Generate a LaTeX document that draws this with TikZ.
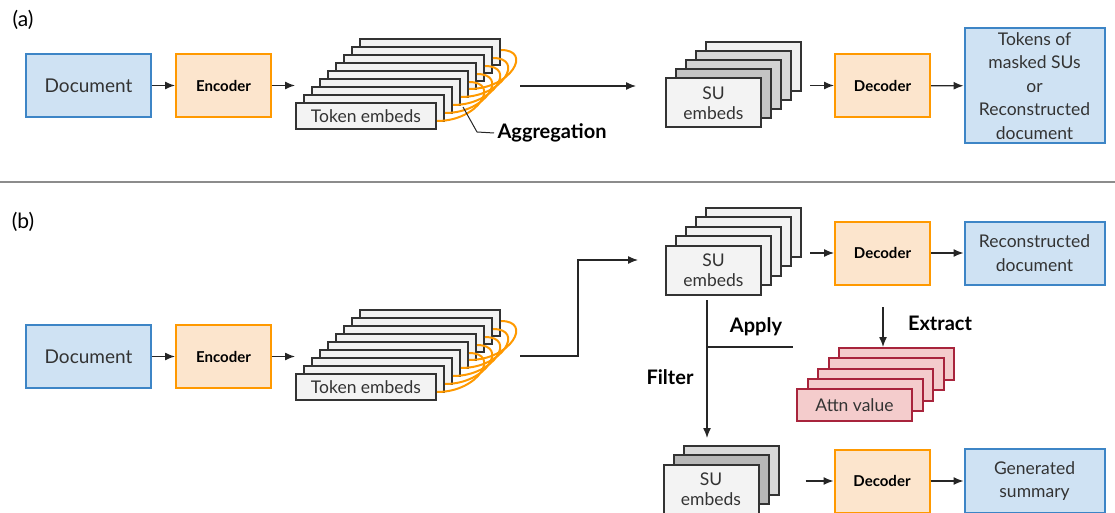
\documentclass[tikz,border=0pt]{standalone}
\usepackage{fontspec}
\setmainfont{Lato}
\usetikzlibrary{arrows.meta, positioning, calc}

\definecolor{docedge}{HTML}{3D85C6}
\definecolor{docfill}{HTML}{CFE2F3}
\definecolor{codedge}{HTML}{FF9900}
\definecolor{codfill}{HTML}{FCE5CD}
\definecolor{cardedge}{HTML}{333333}
\definecolor{cardfill}{HTML}{F3F3F3}
\definecolor{attnedge}{HTML}{A8243C}
\definecolor{attnfill}{HTML}{F4CCCC}
\definecolor{txt}{HTML}{333333}

\begin{document}
\begin{tikzpicture}[
  x=1pt, y=-1pt,
  doc/.style = {draw=docedge, fill=docfill, line width=2pt, minimum width=125pt, minimum height=63pt, align=center, text=txt, font=\fontsize{19}{22}\selectfont},
  coder/.style = {draw=codedge, fill=codfill, line width=2pt, minimum width=95pt, minimum height=63pt, font=\bfseries\fontsize{15}{17}\selectfont},
  card/.style = {draw=cardedge, fill=cardfill, line width=2pt, minimum width=140pt, minimum height=26pt, inner sep=0pt, text=txt, font=\fontsize{17.5}{20}\selectfont},
  sucard/.style = {card, minimum width=95pt, minimum height=49pt, align=center},
  attn/.style = {card, draw=attnedge, fill=attnfill, minimum width=115pt, minimum height=32pt},
  line/.style = {line width=1.3pt, draw=black!85, -{Latex[length=10pt,width=8pt]}},
  plain/.style = {line width=1.3pt, draw=black!85},
  agg/.style = {line width=2pt, draw=codedge},
  lbl/.style = {font=\bfseries\fontsize{20}{23}\selectfont},
  tag/.style = {font=\fontsize{21}{24}\selectfont}
]
\useasboundingbox (0,0) rectangle (1115,513);

% ---------- (a) ----------
\node[tag] (tagA) at (23,20) {(a)};
\node[doc] (docA) at (88.5,85.5) {Document};
\node[coder] (encA) at (223.5,85.5) {Encoder};

% token embeds, back to front
\foreach \i in {8,...,0}
  \node[card] (tokA\i) at ($(366,116)+(8*\i,-8*\i)$) {};
\node[card, fill=none, draw=none] at (tokA0) {Token embeds};
\foreach \i in {0,...,4} {
  \pgfmathtruncatemacro\j{\i+4}
  \draw[agg] ([yshift=-5pt]tokA\i.east) .. controls +(42,0) and +(32,0) .. ([yshift=2pt]tokA\j.east);
}

\coordinate (aggtip) at (463,107);
\node[lbl, anchor=west] (aggA) at (494,133) {Aggregation};
\draw[plain, line width=1pt] (aggtip) -- (477,132) -- (aggA.west);

\coordinate (suinA) at (520,86);
\coordinate (suendA) at (636,86);
\draw[line] (suinA) -- (suendA);

\foreach \i/\c in {4/F0F0F0, 3/D9D9D9, 2/D3D3D3, 1/C4C4C4, 0/F3F3F3} {
  \definecolor{shade}{HTML}{\c}
  \node[sucard, fill=shade] (suA\i) at ($(713.5,103)+(10*\i,-9*\i)$) {};
}
\node[sucard, fill=none, draw=none] at (suA0) {SU\\embeds};

\node[coder] (decA) at (882.5,85.5) {Decoder};
\node[doc, minimum width=140pt, minimum height=115pt, font=\fontsize{17.5}{23.5}\selectfont] (outA) at (1034.5,86) {Tokens of\\masked SUs\\or\\Reconstructed\\document};

\draw[line] (docA) -- (encA);
\draw[line] (encA) -- (encA.east -| tokA0.west);
\draw[line] ([xshift=-24pt]decA.west) -- (decA);
\draw[line] (decA) -- (outA);

% divider
\draw[line width=1.3pt, draw=black!45] (0,182) -- (1115,182);

% ---------- (b) ----------
\node[tag] (tagB) at (23,222) {(b)};
\node[doc] (docB) at (88.5,356.5) {Document};
\node[coder] (encB) at (223.5,356.5) {Encoder};
\draw[line] (docB) -- (encB);

\foreach \i in {8,...,0}
  \node[card] (tokB\i) at ($(366,387)+(8*\i,-8*\i)$) {};
\node[card, fill=none, draw=none] at (tokB0) {Token embeds};
\foreach \i in {0,...,4} {
  \pgfmathtruncatemacro\j{\i+4}
  \draw[agg] ([yshift=-5pt]tokB\i.east) .. controls +(42,0) and +(32,0) .. ([yshift=2pt]tokB\j.east);
}
\draw[line] (encB) -- (encB.east -| tokB0.west);

% upper SU embeds
\foreach \i in {4,...,0}
  \node[sucard] (suB\i) at ($(713.5,270)+(10*\i,-9.4*\i)$) {};
\node[sucard, fill=none, draw=none] at (suB0) {SU\\embeds};
\coordinate (suinB) at (520,356);
\coordinate (suendB) at (638,260);
\draw[line] (suinB) -- (578,356) |- (suendB);

\node[coder] (decB) at (882.5,253) {Decoder};
\node[doc, minimum width=140pt, minimum height=63pt, font=\fontsize{17.5}{23.5}\selectfont] (recB) at (1034.5,253) {Reconstructed\\document};
\draw[line] ([xshift=-24pt]decB.west) -- (decB);
\draw[line] (decB) -- (recB);

% attention values
\foreach \i in {4,...,0}
  \node[attn] (attB\i) at ($(854.5,405)+(10.5*\i,-10.25*\i)$) {};
\node[attn, fill=none, draw=none] at (attB0) {Attn value};
\coordinate (exttop) at (883,307);
\draw[line] (exttop) -- (exttop |- attB4.north);
\node[lbl] (extract) at (940,323) {Extract};

% apply / filter
\coordinate (filtop) at (707,300);
\coordinate (filbot) at (707,438);
\coordinate (applyend) at (793,347);
\draw[line] (filtop) -- (filbot);
\draw[plain] (filtop |- applyend) -- (applyend);
\node[lbl] (apply) at (756,327) {Apply};
\node[lbl] (filter) at (670,377) {Filter};

% filtered SU embeds
\foreach \i/\c in {2/D9D9D9, 1/B7B7B7, 0/F3F3F3} {
  \definecolor{shade}{HTML}{\c}
  \node[sucard, fill=shade] (suC\i) at ($(711,489)+(10*\i,-9.5*\i)$) {};
}
\node[sucard, fill=none, draw=none] at (suC0) {SU\\embeds};

\node[coder] (decC) at (882,481) {Decoder};
\node[doc, minimum width=140pt, minimum height=64pt, font=\fontsize{17.5}{23.5}\selectfont] (sumC) at (1034.5,481) {Generated\\summary};
\draw[line] ([xshift=-28pt]decC.west) -- (decC);
\draw[line] (decC) -- (sumC);
\end{tikzpicture}
\end{document}
